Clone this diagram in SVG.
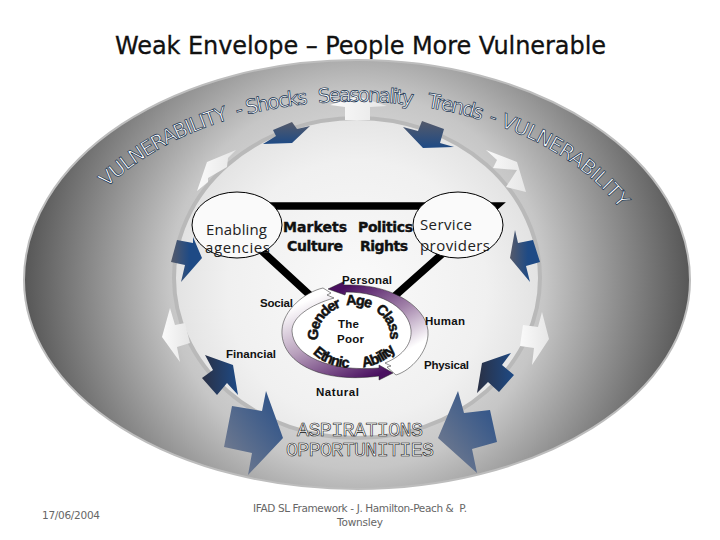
<svg xmlns="http://www.w3.org/2000/svg" width="720" height="540" viewBox="0 0 720 540">
<style>
text{font-family:"DejaVu Sans","Liberation Sans",sans-serif}
.arc{font-size:20px;fill:#fff;stroke:#16324f;stroke-width:.7}
.lab{font-family:"Liberation Sans",sans-serif;font-size:11.5px;fill:#111;font-weight:bold}
.cal{font-family:"Open Sans","Noto Sans",sans-serif;font-size:15px;fill:#222}
.mk{font-size:14px;font-weight:bold;fill:#111;stroke:#111;stroke-width:.4}
.sw{font-family:"Liberation Sans",sans-serif;font-weight:bold;font-size:14.5px;fill:#111;stroke:#111;stroke-width:.5}
.asp{font-family:"Liberation Mono",monospace;font-size:20px;fill:#fff;stroke:#111;stroke-width:.6}
.foot{font-size:10.5px;fill:#666}
</style>
<defs>
<radialGradient id="outer" gradientUnits="userSpaceOnUse" cx="357" cy="281" r="335">
<stop offset="0" stop-color="#fff"/><stop offset=".56" stop-color="#c6c6c6"/><stop offset="1" stop-color="#555"/>
</radialGradient>
<radialGradient id="inner" gradientUnits="userSpaceOnUse" cx="357" cy="290" r="185">
<stop offset="0" stop-color="#fafafa"/><stop offset=".7" stop-color="#f0f0f0"/><stop offset="1" stop-color="#e2e2e2"/>
</radialGradient>
<linearGradient id="dk" x1="0" y1="0" x2="1" y2="0"><stop offset="0" stop-color="#2a3044"/><stop offset="1" stop-color="#1e4a85"/></linearGradient>
<linearGradient id="dkv" x1="0" y1="0" x2="0" y2="1"><stop offset="0" stop-color="#555a6a"/><stop offset="1" stop-color="#1e4a85"/></linearGradient>
<linearGradient id="md" x1="0" y1="0" x2="1" y2="0"><stop offset="0" stop-color="#555a6a"/><stop offset=".6" stop-color="#1e4a85"/></linearGradient>
<linearGradient id="big" x1="0" y1="1" x2="1" y2="0"><stop offset="0" stop-color="#7a8090"/><stop offset="1" stop-color="#264e88"/></linearGradient>
<linearGradient id="wh" x1="0" y1="0" x2="1" y2="0"><stop offset="0" stop-color="#fafafa"/><stop offset="1" stop-color="#e6e6e6"/></linearGradient>
<linearGradient id="pA" gradientUnits="userSpaceOnUse" x1="350" y1="285" x2="400" y2="372"><stop offset="0" stop-color="#4a1060"/><stop offset=".45" stop-color="#a080a8"/><stop offset=".85" stop-color="#fff"/></linearGradient>
<linearGradient id="pB" gradientUnits="userSpaceOnUse" x1="330" y1="290" x2="370" y2="378"><stop offset="0" stop-color="#fff"/><stop offset=".45" stop-color="#b8a0bc"/><stop offset="1" stop-color="#4a1060"/></linearGradient>
<path id="ap" d="M100 195A295 190 0 0 1 622 212"/>
<path id="top" d="M319.6 345A36 31 0 1 1 388.4 345"/>
<path id="bot" d="M305 335A48 33 0 0 0 401 335"/>
</defs>

<g id="title"><text x="115" y="54" font-size="24" textLength="491" lengthAdjust="spacing" fill="#111" stroke="#111" stroke-width=".3">Weak Envelope – People More Vulnerable</text></g>

<g id="envelope">
<path d="M24 280A333 220 0 0 1 690 280A333 209 0 0 1 24 280Z" fill="url(#outer)" stroke="#bdbdbd" stroke-width="2"/>
<ellipse cx="357" cy="278" rx="183" ry="160" fill="url(#inner)" stroke="#b9b9b9" stroke-width="4"/>
</g>

<g id="arrows">
<polygon fill="url(#dkv)" points="310,126 297,129 292,122 273,130 276,136 263,144 292,143"/>
<polygon fill="url(#wh)" points="236,150 207,162 197,191 208,182 208,178 227,167 228,158"/>
<polygon fill="url(#wh)" points="357,96 330,105 345,107 345,120 370,120 370,107 387,106"/>
<polygon fill="url(#dkv)" points="403,127 418,131 422,121 444,129 440,143 454,147 423,148"/>
<polygon fill="url(#wh)" points="486,150 517,162 526,192 506,187 517,170 493,168 497,160"/>
<polygon fill="url(#md)" points="177,240 193,243 193,237 202,258 181,282 185,265 171,262"/>
<polygon fill="url(#wh)" points="170,308 162,337 180,362 177,347 190,343 185,323 175,325"/>
<polygon fill="url(#dk)" points="205,355 233,365 238,395 227,383 217,395 202,378 213,370"/>
<polygon fill="url(#big)" points="232,406 262,411 266,391 283,438 248,475 252,453 224,447"/>
<polygon fill="url(#big)" points="458,391 464,413 490,410 497,442 472,449 477,473 438,438"/>
<polygon fill="url(#md)" points="515,230 518,243 533,240 540,262 526,266 530,282 510,258"/>
<polygon fill="url(#wh)" points="542,312 549,339 532,365 534,348 520,346 523,325 538,327"/>
<polygon fill="url(#dk)" points="511,353 482,363 477,393 488,382 499,392 514,375 502,365"/>
</g>

<g id="arc-text">
<text class="arc"><textPath href="#ap" startOffset="10" textLength="141" lengthAdjust="spacing">VULNERABILITY</textPath></text>
<text class="arc"><textPath href="#ap" startOffset="160" textLength="72" lengthAdjust="spacing">- Shocks</textPath></text>
<text class="arc"><textPath href="#ap" startOffset="242" textLength="95" lengthAdjust="spacing">Seasonality</textPath></text>
<text class="arc"><textPath href="#ap" startOffset="351" textLength="56" lengthAdjust="spacing">Trends</textPath></text>
<text class="arc"><textPath href="#ap" startOffset="414" textLength="160" lengthAdjust="spacing">- VULNERABILITY</textPath></text>
</g>

<g id="connectors">
<path d="M240 206H496L352 334L225 217" fill="none" stroke="#000" stroke-width="7.5" stroke-linejoin="miter" stroke-miterlimit="6"/>
</g>

<g id="enabling-agencies">
<ellipse cx="237" cy="225" rx="45" ry="33" fill="#fafafa" stroke="#000" stroke-width="1"/>
<text class="cal" x="206" y="235" textLength="61" lengthAdjust="spacing">Enabling</text>
<text class="cal" x="205" y="253" textLength="65" lengthAdjust="spacing">agencies</text>
</g>
<g id="service-providers">
<ellipse cx="458" cy="225" rx="45" ry="33" fill="#fafafa" stroke="#000" stroke-width="1"/>
<text class="cal" x="420" y="230" textLength="52" lengthAdjust="spacing">Service</text>
<text class="cal" x="420" y="251" textLength="70" lengthAdjust="spacing">providers</text>
</g>
<g id="rights">
<text class="mk" x="283" y="232" textLength="64" lengthAdjust="spacing">Markets</text>
<text class="mk" x="358" y="232" textLength="55" lengthAdjust="spacing">Politics</text>
<text class="mk" x="287" y="251" textLength="56" lengthAdjust="spacing">Culture</text>
<text class="mk" x="360" y="251" textLength="48" lengthAdjust="spacing">Rights</text>
</g>

<g id="the-poor">
<ellipse cx="352" cy="331" rx="60" ry="47" fill="#fff"/>
<path d="M328 289L343 282L344 285C395 283 430 310 428 335C427 352 412 370 396 375L387 367L391 366L385 363C405 355 412 342 411 330C409 310 385 292 346 292L345 295Z" fill="url(#pA)" stroke="#222" stroke-width=".5"/>
<path d="M393 373L379 380L379 376C320 384 280 362 282 330C283 310 305 292 323 288L331 293L327 295L334 298C310 305 292 317 292 331C293 356 330 372 379 368L379 365Z" fill="url(#pB)" stroke="#222" stroke-width=".5"/>
<text class="sw"><textPath href="#top" startOffset="5" textLength="44" lengthAdjust="spacing">Gender</textPath></text>
<text class="sw"><textPath href="#top" startOffset="54" textLength="25" lengthAdjust="spacing">Age</textPath></text>
<text class="sw"><textPath href="#top" startOffset="84" textLength="34" lengthAdjust="spacing">Class</textPath></text>
<text class="sw"><textPath href="#bot" startOffset="20" textLength="40" lengthAdjust="spacing">Ethnic</textPath></text>
<text class="sw"><textPath href="#bot" startOffset="74" textLength="38" lengthAdjust="spacing">Ability</textPath></text>
<text class="lab" x="338" y="328" textLength="21" lengthAdjust="spacing">The</text>
<text class="lab" x="337" y="343" textLength="27" lengthAdjust="spacing">Poor</text>
</g>

<g id="capitals">
<text class="lab" x="342" y="284" textLength="50" lengthAdjust="spacing">Personal</text>
<text class="lab" x="260" y="307" textLength="33" lengthAdjust="spacing">Social</text>
<text class="lab" x="425" y="325" textLength="40" lengthAdjust="spacing">Human</text>
<text class="lab" x="226" y="358" textLength="50" lengthAdjust="spacing">Financial</text>
<text class="lab" x="424" y="369" textLength="45" lengthAdjust="spacing">Physical</text>
<text class="lab" x="316" y="396" textLength="43" lengthAdjust="spacing">Natural</text>
</g>

<g id="aspirations">
<text class="asp" x="297" y="436" textLength="126" lengthAdjust="spacing">ASPIRATIONS</text>
<text class="asp" x="286" y="456" textLength="148" lengthAdjust="spacing">OPPORTUNITIES</text>
</g>

<g id="footer">
<text class="foot" x="42" y="519" textLength="58" lengthAdjust="spacing">17/06/2004</text>
<text class="foot" x="253" y="512" textLength="214" lengthAdjust="spacing" xml:space="preserve">IFAD SL Framework - J. Hamilton-Peach &amp;  P.</text>
<text class="foot" x="337" y="526" textLength="46" lengthAdjust="spacing">Townsley</text>
</g>
</svg>
